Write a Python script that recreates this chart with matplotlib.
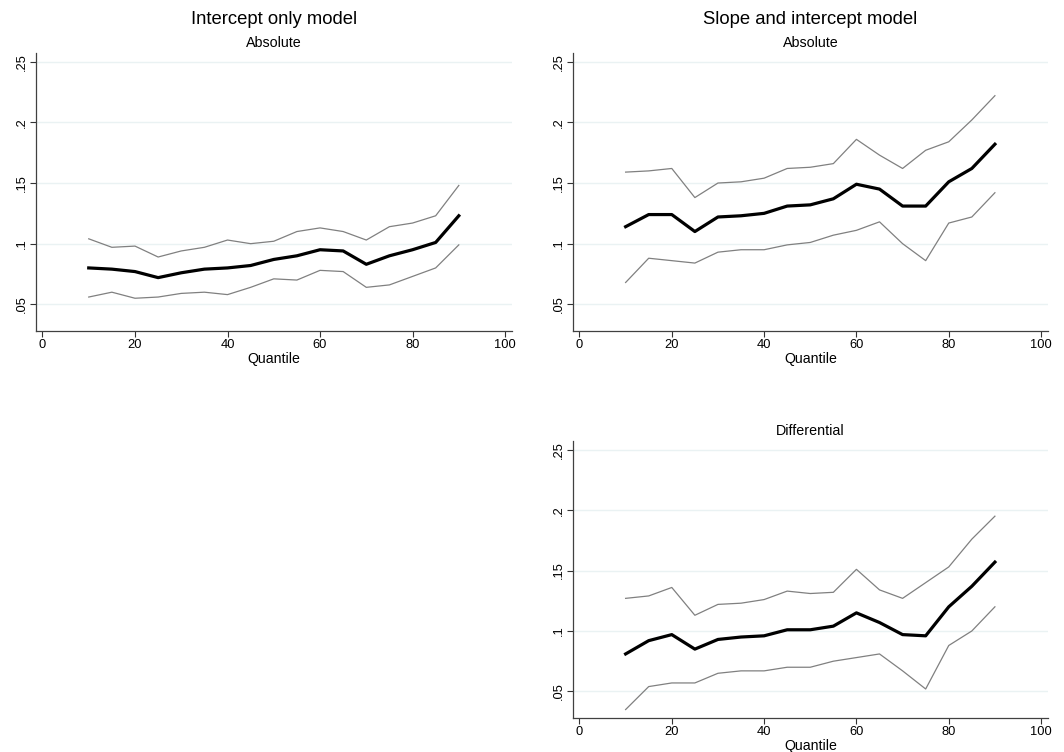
import matplotlib
matplotlib.use("Agg")
import matplotlib.pyplot as plt

plt.rcParams['font.family'] = ['Liberation Sans', 'DejaVu Sans']

quantile = [10, 15, 20, 25, 30, 35, 40, 45, 50, 55, 60, 65, 70, 75, 80, 85, 90]

# Intercept only model - absolute
io_est = [0.080, 0.079, 0.077, 0.072, 0.076, 0.079, 0.080, 0.082, 0.087, 0.090, 0.095, 0.094,
          0.083, 0.090, 0.095, 0.101, 0.123]
io_hi = [0.104, 0.097, 0.098, 0.089, 0.094, 0.097, 0.103, 0.100, 0.102, 0.110, 0.113, 0.110,
         0.103, 0.114, 0.117, 0.123, 0.148]
io_lo = [0.056, 0.060, 0.055, 0.056, 0.059, 0.060, 0.058, 0.064, 0.071, 0.070, 0.078, 0.077,
         0.064, 0.066, 0.073, 0.080, 0.099]

# Slope and intercept model - absolute
si_est = [0.114, 0.124, 0.124, 0.110, 0.122, 0.123, 0.125, 0.131, 0.132, 0.137, 0.149, 0.145,
          0.131, 0.131, 0.151, 0.162, 0.182]
si_hi = [0.159, 0.160, 0.162, 0.138, 0.150, 0.151, 0.154, 0.162, 0.163, 0.166, 0.186, 0.173,
         0.162, 0.177, 0.184, 0.202, 0.222]
si_lo = [0.068, 0.088, 0.086, 0.084, 0.093, 0.095, 0.095, 0.099, 0.101, 0.107, 0.111, 0.118,
         0.100, 0.086, 0.117, 0.122, 0.142]

# Slope and intercept model - differential
df_est = [0.081, 0.092, 0.097, 0.085, 0.093, 0.095, 0.096, 0.101, 0.101, 0.104, 0.115, 0.107,
          0.097, 0.096, 0.120, 0.137, 0.157]
df_hi = [0.127, 0.129, 0.136, 0.113, 0.122, 0.123, 0.126, 0.133, 0.131, 0.132, 0.151, 0.134,
         0.127, 0.140, 0.153, 0.176, 0.195]
df_lo = [0.035, 0.054, 0.057, 0.057, 0.065, 0.067, 0.067, 0.070, 0.070, 0.075, 0.078, 0.081,
         0.067, 0.052, 0.088, 0.100, 0.120]

yticks = [0.05, 0.1, 0.15, 0.2, 0.25]
ytick_labels = ['.05', '.1', '.15', '.2', '.25']
xticks = [0, 20, 40, 60, 80, 100]

fig = plt.figure(figsize=(10.64, 7.52), dpi=100)
fig.patch.set_facecolor('white')


def panel(rect, est, hi, lo, subtitle, title=None):
    ax = fig.add_axes(rect)
    ax.plot(quantile, hi, color='#808080', lw=0.9)
    ax.plot(quantile, lo, color='#808080', lw=0.9)
    ax.plot(quantile, est, color='black', lw=2.3)
    ax.set_xlim(-1.4, 101.5)
    ax.set_ylim(0.028, 0.2572)
    ax.set_yticks(yticks)
    ax.set_yticklabels(ytick_labels, rotation=90, va='center', fontsize=9.3)
    ax.set_xticks(xticks)
    ax.set_xticklabels([str(t) for t in xticks], fontsize=9.3)
    ax.tick_params(direction='out', length=4, width=0.8, colors='#333333', pad=2)
    ax.tick_params(labelcolor='black')
    ax.grid(axis='y', color='#eaf2f3', lw=1.0)
    ax.set_axisbelow(True)
    for s in ['top', 'right']:
        ax.spines[s].set_visible(False)
    for s in ['left', 'bottom']:
        ax.spines[s].set_color('#404040')
        ax.spines[s].set_linewidth(0.9)
    ax.set_xlabel('Quantile', fontsize=10.2, labelpad=0.5)
    ax.set_title(subtitle, fontsize=10.3, pad=4)
    if title is not None:
        ax.text(0.5, 1.0 + 33 / 278, title, transform=ax.transAxes,
                ha='center', va='center', fontsize=13.3)
    return ax


panel([36 / 1064, 1 - 331 / 752, 476 / 1064, 278 / 752], io_est, io_hi, io_lo,
      'Absolute', 'Intercept only model')
panel([573 / 1064, 1 - 331 / 752, 475 / 1064, 278 / 752], si_est, si_hi, si_lo,
      'Absolute', 'Slope and intercept model')
panel([573 / 1064, 1 - 718 / 752, 475 / 1064, 277 / 752], df_est, df_hi, df_lo,
      'Differential')

fig.savefig('out.png', dpi=100)
